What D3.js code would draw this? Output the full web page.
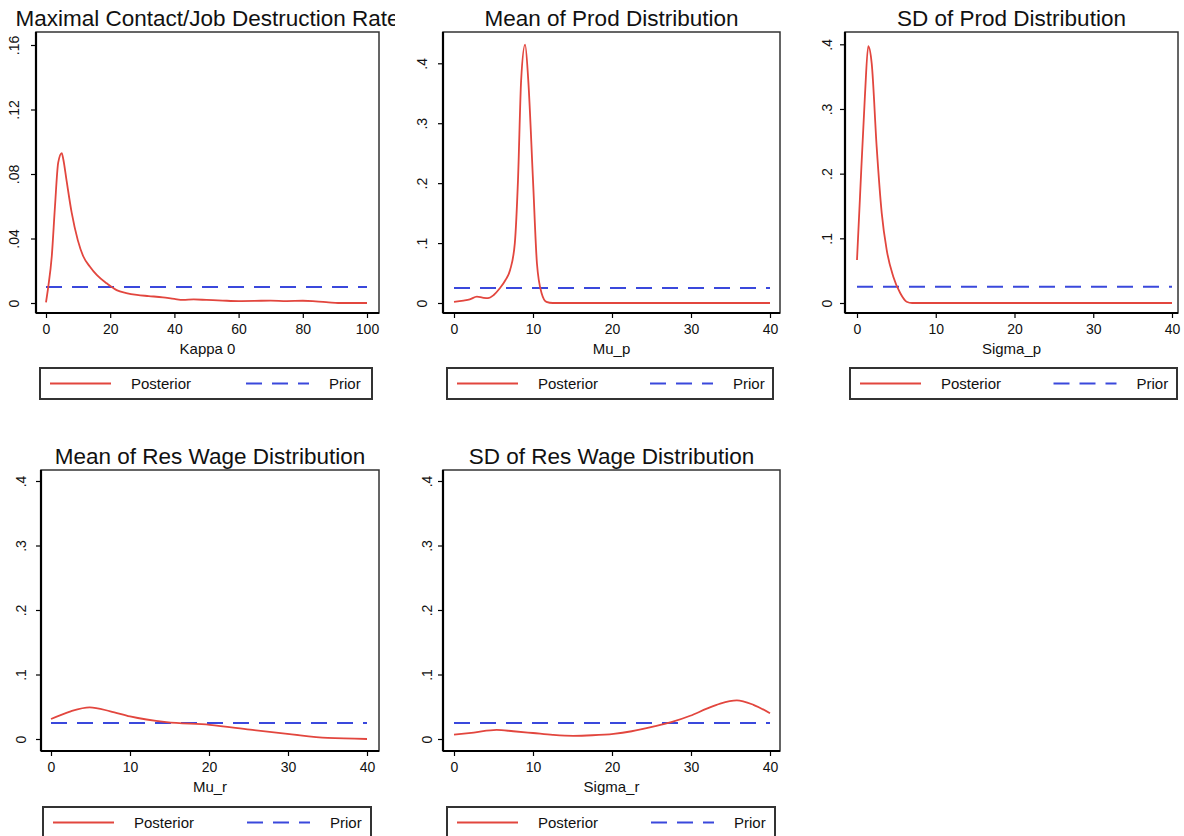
<!DOCTYPE html>
<html>
<head>
<meta charset="utf-8">
<script src="https://cdn.jsdelivr.net/npm/d3@7"></script>
<style>
  html, body { margin: 0; padding: 0; background: #fff; }
  svg text { font-family: "Liberation Sans", Arial, Helvetica, sans-serif; fill: #111; }
</style>
</head>
<body>
<div id="chart"></div>
<script>
// panel titles / axis titles
var titles = ["Maximal Contact/Job Destruction Rate", "Mean of Prod Distribution",
  "SD of Prod Distribution", "Mean of Res Wage Distribution", "SD of Res Wage Distribution"];
var xTitles = ["Kappa 0", "Mu_p", "Sigma_p", "Mu_r", "Sigma_r"];

// tick values
var xTicks100 = [0, 20, 40, 60, 80, 100];
var xTicks40 = [0, 10, 20, 30, 40];
var yTicksKappa = [0, 0.04, 0.08, 0.12, 0.16];
var yTicks4 = [0, 0.1, 0.2, 0.3, 0.4];

// posterior densities, [x, density]
var postKappa = [[0,0.0004],[0.7,0.01],[1.8,0.029],[2.8,0.06],[3.8,0.087],[4.9,0.093],[5.4,0.089],
  [6.4,0.076],[8,0.056],[9.9,0.039],[11.6,0.029],[13.7,0.0225],[15.8,0.0174],[18.9,0.0122],[22,0.008],
  [25,0.0062],[28.3,0.005],[32,0.0043],[36.4,0.0035],[40,0.0025],[42.7,0.0019],[46,0.0022],[50,0.0019],
  [55,0.0015],[60,0.0012],[65,0.0013],[70,0.0015],[75,0.0012],[80,0.0014],[84,0.001],[88,0.0004],
  [91,0],[100,0]];
var postMuP = [[0,0.002],[1.2,0.004],[2,0.006],[2.9,0.0105],[3.6,0.009],[4.3,0.008],[5,0.013],
  [5.8,0.0245],[6.5,0.038],[7.1,0.055],[7.7,0.1],[8.1,0.205],[8.5,0.372],[9,0.431],[9.4,0.372],
  [10,0.205],[10.5,0.066],[11.1,0.016],[11.7,0.002],[12.5,0],[40,0]];
var postSigmaP = [[0,0.0665],[0.38,0.164],[1,0.319],[1.43,0.397],[1.87,0.37],[2.5,0.241],[3.14,0.139],
  [3.77,0.082],[4.6,0.041],[5.5,0.015],[6.3,0.002],[7,0],[40,0]];
var postMuR = [[0,0.031],[2.5,0.043],[4.9,0.049],[7.5,0.043],[10,0.035],[14.6,0.026],[20.1,0.022],
  [25.2,0.0145],[30.2,0.0075],[35,0.0016],[40,0]];
var postSigmaR = [[0,0.0067],[2.5,0.01],[5.4,0.014],[7.5,0.012],[10,0.0093],[12.5,0.0065],[15.1,0.005],
  [17.5,0.0058],[20.2,0.008],[22.5,0.012],[25.2,0.019],[27.5,0.026],[29.9,0.036],[32,0.047],
  [33.7,0.055],[35.8,0.06],[37.9,0.053],[40,0.04]];

// uniform priors: [xmin, xmax, density]
var priors = [[0, 100, 0.01], [0, 40, 0.025], [0, 40, 0.025], [0, 40, 0.025], [0, 40, 0.025]];

var legendLabels = ["Posterior", "Prior"];

var posteriors = [postKappa, postMuP, postSigmaP, postMuR, postSigmaR];
var xTickSets = [xTicks100, xTicks40, xTicks40, xTicks40, xTicks40];
var yTickSets = [yTicksKappa, yTicks4, yTicks4, yTicks4, yTicks4];

// layout of each panel (pixels)
var layout = [
  {frame: [36, 32, 379, 313], xr: [46, 367], yr: [303, 45], ylab: 19, legend: [40, 368, 372, 399], clip: 395},
  {frame: [443, 32, 780, 313], xr: [454, 770], yr: [303, 63.3], ylab: 427, legend: [447, 368, 773, 399], clip: 790},
  {frame: [845, 32, 1178, 313], xr: [857, 1172], yr: [303, 44.3], ylab: 832, legend: [850, 368, 1177, 399], clip: 1184},
  {frame: [41, 470, 379, 751], xr: [51, 367], yr: [739, 481], ylab: 26, legend: [43, 807, 371, 838], clip: 395},
  {frame: [443, 470, 780, 751], xr: [454, 770], yr: [739, 481], ylab: 432, legend: [447, 807, 775, 838], clip: 790}
];

var RED = "#e2463e", BLUE = "#3a48dc";

var svg = d3.select("#chart").append("svg").attr("width", 1184).attr("height", 836);

function fmt(d) {
  return d === 0 ? "0" : String(d).replace(/^0/, "");
}

layout.forEach(function(L, i) {
  var f = L.frame;
  var xDom = [xTickSets[i][0], xTickSets[i][xTickSets[i].length - 1]];
  var yDom = [0, yTickSets[i][yTickSets[i].length - 1]];
  var x = d3.scaleLinear().domain(xDom).range(L.xr);
  var y = d3.scaleLinear().domain(yDom).range(L.yr);

  var clipId = "clip" + i;
  svg.append("clipPath").attr("id", clipId).append("rect")
    .attr("x", L.clip - 400).attr("y", 0).attr("width", 400).attr("height", 836);
  var g = svg.append("g").attr("clip-path", "url(#" + clipId + ")");

  // title
  g.append("text")
    .attr("x", (f[0] + f[2]) / 2).attr("y", f[1] - 6)
    .attr("text-anchor", "middle").attr("font-size", 22.5)
    .text(titles[i]);

  // plot region outline
  g.append("rect")
    .attr("x", f[0]).attr("y", f[1]).attr("width", f[2] - f[0]).attr("height", f[3] - f[1])
    .attr("fill", "#fff").attr("stroke", "#333").attr("stroke-width", 1.5);

  // prior
  var p = priors[i];
  g.append("line")
    .attr("x1", x(p[0])).attr("x2", x(p[1])).attr("y1", y(p[2])).attr("y2", y(p[2]))
    .attr("stroke", BLUE).attr("stroke-width", 2).attr("stroke-dasharray", "16 10");

  // posterior
  var line = d3.line().x(function(d) { return x(d[0]); }).y(function(d) { return y(d[1]); })
    .curve(d3.curveMonotoneX);
  g.append("path").datum(posteriors[i])
    .attr("d", line).attr("fill", "none")
    .attr("stroke", RED).attr("stroke-width", 1.8).attr("stroke-linejoin", "round");

  // x axis
  var xa = g.append("g").attr("transform", "translate(0," + f[3] + ")")
    .call(d3.axisBottom(x).tickValues(xTickSets[i]).tickFormat(fmt).tickSize(5).tickPadding(6));
  xa.select(".domain").attr("d", "M" + f[0] + ",0H" + f[2]).attr("stroke", "#000").attr("stroke-width", 2.2);
  xa.selectAll(".tick line").attr("stroke", "#000").attr("stroke-width", 1.2);
  xa.selectAll(".tick text").attr("font-size", 14).attr("fill", "#111").attr("font-family", null);

  // y axis
  var ya = g.append("g").attr("transform", "translate(" + f[0] + ",0)")
    .call(d3.axisLeft(y).tickValues(yTickSets[i]).tickFormat(fmt).tickSize(5));
  ya.select(".domain").attr("d", "M0," + f[1] + "V" + f[3]).attr("stroke", "#000").attr("stroke-width", 2.2);
  ya.selectAll(".tick line").attr("stroke", "#000").attr("stroke-width", 1.2);
  ya.selectAll(".tick text").remove();
  ya.selectAll(".tick").append("text")
    .attr("transform", "translate(" + (L.ylab - f[0]) + ",0) rotate(-90)")
    .attr("text-anchor", "middle").attr("font-size", 14).attr("font-family", null)
    .text(function(d) { return fmt(d); });

  // x axis title
  g.append("text")
    .attr("x", (f[0] + f[2]) / 2).attr("y", f[3] + 41)
    .attr("text-anchor", "middle").attr("font-size", 15)
    .text(xTitles[i]);

  // legend
  var lg = L.legend, lw = lg[2] - lg[0], cy = (lg[1] + lg[3]) / 2;
  g.append("rect")
    .attr("x", lg[0]).attr("y", lg[1]).attr("width", lw).attr("height", lg[3] - lg[1])
    .attr("fill", "#fff").attr("stroke", "#333").attr("stroke-width", 2);
  g.append("line")
    .attr("x1", lg[0] + 10).attr("x2", lg[0] + 71).attr("y1", cy).attr("y2", cy)
    .attr("stroke", RED).attr("stroke-width", 1.8);
  g.append("text")
    .attr("x", lg[0] + 91).attr("y", cy + 5).attr("font-size", 15)
    .text(legendLabels[0]);
  var c2 = lg[0] + lw / 2 + 40;
  g.append("line")
    .attr("x1", c2).attr("x2", c2 + 63).attr("y1", cy).attr("y2", cy)
    .attr("stroke", BLUE).attr("stroke-width", 2).attr("stroke-dasharray", "16 10");
  g.append("text")
    .attr("x", c2 + 83).attr("y", cy + 5).attr("font-size", 15)
    .text(legendLabels[1]);
});
</script>
</body>
</html>
